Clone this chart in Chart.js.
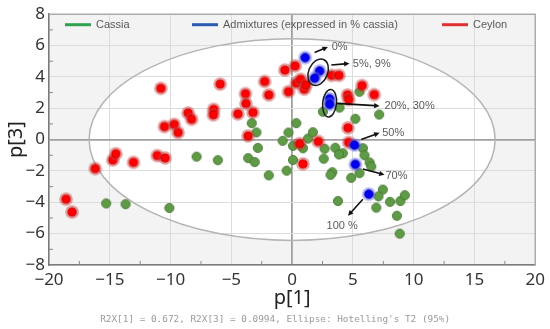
<!DOCTYPE html>
<html>
<head>
<meta charset="utf-8">
<script src="https://cdn.jsdelivr.net/npm/chart.js@4.4.1/dist/chart.umd.min.js"></script>
<style>
  html, body { margin: 0; padding: 0; background: #fff; }
  #wrap { width: 550px; height: 329px; }
</style>
</head>
<body>
<div id="wrap"><canvas id="scoreChart"></canvas></div>
<script>
// score plot p[1] vs p[3]
const seriesNames = ["Cassia", "Admixtures (expressed in % cassia)", "Ceylon"];

const cassiaPoints = [
  [-15.3, -4.07], [-13.7, -4.12], [-10.1, -4.36], [-7.86, -1.09], [-6.11, -1.31],
  [-3.62, -1.18], [-3.08, -1.43], [-1.92, -2.28], [-0.45, -1.98], [0.07, -1.3],
  [-3.32, 1.05], [-2.94, 0.46], [-2.82, -0.53], [-0.78, -0.08], [-0.3, 0.45],
  [0.34, 1.05], [0.07, -0.4], [0.89, -0.55], [1.3, 0.07], [1.71, 0.47],
  [2.53, 1.78], [3.9, 2.04], [5.54, 3.05], [7.16, 1.6], [5.2, 1.33],
  [3.55, -0.52], [4.17, -0.87], [3.85, -0.95], [2.6, -1.22], [2.67, -0.58],
  [5.82, -0.55], [5.95, -1.0], [6.37, -1.46], [6.51, -1.72], [3.3, -2.08],
  [3.16, -2.25], [4.86, -2.44], [5.54, -2.14], [3.77, -3.92], [7.46, -3.19],
  [7.1, -3.62], [6.92, -4.34], [8.05, -3.97], [8.9, -3.92], [9.27, -3.55],
  [8.62, -4.86], [8.85, -6.0]
];

const ceylonPoints = [
  [-18.6, -3.8], [-18.1, -4.62], [-16.2, -1.85], [-14.75, -1.3], [-14.5, -0.9],
  [-13.05, -1.45], [-11.1, -1.02], [-10.45, -1.17], [-10.8, 3.27], [-10.5, 0.83],
  [-9.7, 0.97], [-9.38, 0.45], [-8.56, 1.7], [-8.27, 1.3], [-6.45, 1.93],
  [-6.48, 1.58], [-5.92, 3.54], [-4.46, 1.64], [-3.84, 2.93], [-3.8, 2.3],
  [-3.22, 1.73], [-2.26, 3.71], [-1.92, 2.85], [-3.63, 0.23], [-0.6, 4.44],
  [0.25, 4.7], [-0.3, 3.06], [0.35, 3.6], [0.7, 3.85], [1.0, 3.22],
  [1.15, 3.5], [3.25, 4.1], [3.85, 4.1], [5.75, 3.45], [6.75, 2.87],
  [4.55, 2.85], [4.65, 2.55], [4.59, 0.75], [2.15, -0.12], [0.62, -0.26],
  [0.89, -1.55], [4.65, -0.18]
];

const admixPoints = [
  [1.07, 5.23], [2.26, 4.38], [1.85, 3.92], [3.08, 2.6], [3.08, 2.25],
  [5.13, -0.35], [5.2, -1.58], [6.31, -3.48]
];

const xRange = [-20, 20];
const yRange = [-8, 8];
const xStep = 5;
const yStep = 2;

// Hotelling's T2 ellipse (95%), semi-axes in p[1] / p[3] units
const t2Ellipse = { a: 16.7, b: 6.43 };

// rings round the 5/9 % and 20/30 % pairs
const pairRings = [
  { at: [2.14, 4.3], rx: 0.78, ry: 0.88, tilt: 0.4 },
  { at: [3.08, 2.32], rx: 0.57, ry: 0.88, tilt: 0.1 }
];

// arrow labels for the admixtures
const admixNotes = [
  { text: "0%", from: [1.85, 5.55], to: [2.94, 5.91], at: [3.25, 5.91], align: "left" },
  { text: "5%, 9%", from: [3.22, 4.76], to: [4.72, 4.86], at: [4.99, 4.84], align: "left" },
  { text: "20%, 30%", from: [3.63, 2.31], to: [7.19, 2.15], at: [7.6, 2.15], align: "left" },
  { text: "50%", from: [5.68, 0.01], to: [7.19, 0.43], at: [7.41, 0.43], align: "left" },
  { text: "70%", from: [5.82, -1.87], to: [7.6, -2.25], at: [7.68, -2.31], align: "left" },
  { text: "100 %", from: [5.82, -3.81], to: [4.59, -4.86], at: [4.11, -5.53], align: "center" }
];

const footnote = "R2X[1] = 0.672, R2X[3] = 0.0994, Ellipse: Hotelling's T2 (95%)";

const legendColors = ["#2fa24f", "#2a5bb0", "#e03030"];
const legendOffsets = [16, 143, 393];

function makeDot(r, fill, edge, haloR, halo) {
  const size = Math.ceil((haloR || r + 1) * 2 + 2);
  const c = document.createElement("canvas");
  c.width = size;
  c.height = size;
  const g = c.getContext("2d");
  const m = size / 2;
  if (haloR) {
    g.beginPath();
    g.arc(m, m, haloR, 0, Math.PI * 2);
    g.fillStyle = halo;
    g.fill();
  }
  g.beginPath();
  g.arc(m, m, r, 0, Math.PI * 2);
  g.fillStyle = fill;
  g.fill();
  g.lineWidth = 0.8;
  g.strokeStyle = edge;
  g.stroke();
  return c;
}

const greenDot = makeDot(4.6, "#5f9a46", "#41722e");
const redDot = makeDot(4.1, "#ff0000", "#c00000", 6.8, "rgba(205,60,60,0.5)");
const blueDot = makeDot(4.3, "#0000f0", "#0000b0", 6.8, "rgba(95,95,235,0.5)");

function toXY(list) {
  return list.map(p => ({ x: p[0], y: p[1] }));
}

function arrow(ctx, x1, y1, x2, y2) {
  const ang = Math.atan2(y2 - y1, x2 - x1);
  const head = 6;
  ctx.beginPath();
  ctx.moveTo(x1, y1);
  ctx.lineTo(x2 - head * 0.8 * Math.cos(ang), y2 - head * 0.8 * Math.sin(ang));
  ctx.stroke();
  ctx.beginPath();
  ctx.moveTo(x2, y2);
  ctx.lineTo(x2 - head * Math.cos(ang - 0.45), y2 - head * Math.sin(ang - 0.45));
  ctx.lineTo(x2 - head * Math.cos(ang + 0.45), y2 - head * Math.sin(ang + 0.45));
  ctx.closePath();
  ctx.fill();
}

const plotDecor = {
  id: "plotDecor",
  beforeDraw(chart) {
    const { ctx, chartArea: a, scales: { x, y } } = chart;
    ctx.save();
    ctx.fillStyle = "#f3f3f3";
    ctx.fillRect(a.left, a.top, a.right - a.left, a.bottom - a.top);
    const cx = x.getPixelForValue(0);
    const cy = y.getPixelForValue(0);
    const rx = Math.abs(x.getPixelForValue(t2Ellipse.a) - cx);
    const ry = Math.abs(y.getPixelForValue(t2Ellipse.b) - cy);
    ctx.beginPath();
    ctx.ellipse(cx, cy, rx, ry, 0, 0, Math.PI * 2);
    ctx.fillStyle = "#fff";
    ctx.fill();
    ctx.restore();
  },
  beforeDatasetsDraw(chart) {
    const { ctx, chartArea: a, scales: { x, y } } = chart;
    ctx.save();
    const cx = x.getPixelForValue(0);
    const cy = y.getPixelForValue(0);
    const rx = Math.abs(x.getPixelForValue(t2Ellipse.a) - cx);
    const ry = Math.abs(y.getPixelForValue(t2Ellipse.b) - cy);
    ctx.beginPath();
    ctx.ellipse(cx, cy, rx, ry, 0, 0, Math.PI * 2);
    ctx.strokeStyle = "#b4b4b4";
    ctx.lineWidth = 1.5;
    ctx.stroke();

    // frame top / right
    ctx.strokeStyle = "#ababab";
    ctx.lineWidth = 1.5;
    ctx.beginPath();
    ctx.moveTo(a.left, a.top);
    ctx.lineTo(a.right, a.top);
    ctx.lineTo(a.right, a.bottom);
    ctx.stroke();

    // minor ticks
    ctx.strokeStyle = "#8a8a8a";
    ctx.lineWidth = 1;
    for (let v = xRange[0] + xStep / 2; v < xRange[1]; v += xStep) {
      const px = x.getPixelForValue(v);
      ctx.beginPath();
      ctx.moveTo(px, a.bottom);
      ctx.lineTo(px, a.bottom - 4);
      ctx.stroke();
    }
    for (let v = yRange[0] + yStep / 2; v < yRange[1]; v += yStep) {
      const py = y.getPixelForValue(v);
      ctx.beginPath();
      ctx.moveTo(a.left, py);
      ctx.lineTo(a.left + 4, py);
      ctx.stroke();
    }
    ctx.restore();
  },
  afterDatasetsDraw(chart) {
    const { ctx, chartArea: a, scales: { x, y } } = chart;
    ctx.save();

    // rings round overlapping admixtures
    ctx.strokeStyle = "#1a1a1a";
    ctx.lineWidth = 1.5;
    pairRings.forEach(r => {
      const cx = x.getPixelForValue(r.at[0]);
      const cy = y.getPixelForValue(r.at[1]);
      const rx = Math.abs(x.getPixelForValue(r.at[0] + r.rx) - cx);
      const ry = Math.abs(y.getPixelForValue(r.at[1] + r.ry) - cy);
      ctx.beginPath();
      ctx.ellipse(cx, cy, rx, ry, r.tilt, 0, Math.PI * 2);
      ctx.stroke();
    });

    // arrows + labels
    ctx.strokeStyle = "#111";
    ctx.fillStyle = "#111";
    ctx.lineWidth = 1.6;
    admixNotes.forEach(n => {
      arrow(ctx,
        x.getPixelForValue(n.from[0]), y.getPixelForValue(n.from[1]),
        x.getPixelForValue(n.to[0]), y.getPixelForValue(n.to[1]));
    });
    ctx.fillStyle = "#5a5a5a";
    ctx.font = "11px 'Liberation Sans', Arial, sans-serif";
    ctx.textBaseline = "middle";
    admixNotes.forEach(n => {
      ctx.textAlign = n.align;
      ctx.fillText(n.text, x.getPixelForValue(n.at[0]), y.getPixelForValue(n.at[1]));
    });

    // legend inside the plot
    const ly = a.top + 10.5;
    ctx.textAlign = "left";
    ctx.lineWidth = 3;
    seriesNames.forEach((name, i) => {
      const lx = a.left + legendOffsets[i];
      ctx.strokeStyle = legendColors[i];
      ctx.beginPath();
      ctx.moveTo(lx, ly);
      ctx.lineTo(lx + 26, ly);
      ctx.stroke();
      ctx.fillStyle = "#5a5a5a";
      ctx.fillText(name, lx + 31, ly);
    });
    ctx.restore();
  },
  afterDraw(chart) {
    const { ctx, chartArea: a } = chart;
    ctx.save();
    ctx.fillStyle = "#9a9a9a";
    ctx.font = "9.4px 'DejaVu Sans Mono', monospace";
    ctx.textAlign = "center";
    ctx.textBaseline = "middle";
    ctx.fillText(footnote, (a.left + a.right) / 2 - 17, 320);
    ctx.restore();
  }
};

const tickFont = { family: "'Noto Sans', sans-serif", size: 17 };
const titleFont = { family: "'Noto Sans', sans-serif", size: 20 };

function gridColor(c) {
  return c.tick && c.tick.value === 0 ? "#a0a0a0" : "#dcdcdc";
}
function gridWidth(c) {
  return c.tick && c.tick.value === 0 ? 1.8 : 1;
}
function minusLabel(v) {
  return String(v).replace("-", "\u2212");
}

new Chart(document.getElementById("scoreChart"), {
  type: "scatter",
  data: {
    datasets: [
      { label: seriesNames[1], data: toXY(admixPoints), pointStyle: blueDot, order: 0 },
      { label: seriesNames[2], data: toXY(ceylonPoints), pointStyle: redDot, order: 1 },
      { label: seriesNames[0], data: toXY(cassiaPoints), pointStyle: greenDot, order: 2 }
    ]
  },
  options: {
    responsive: true,
    maintainAspectRatio: false,
    animation: false,
    events: [],
    layout: { padding: { top: 10, right: 14, bottom: 18, left: 0 } },
    plugins: {
      legend: { display: false },
      tooltip: { enabled: false }
    },
    scales: {
      x: {
        type: "linear",
        min: xRange[0],
        max: xRange[1],
        afterFit: s => { s.height = 46; },
        ticks: { stepSize: xStep, color: "#333", font: tickFont, padding: 5, callback: minusLabel },
        grid: { color: gridColor, lineWidth: gridWidth, drawTicks: false },
        border: { color: "#7a7a7a", width: 1.5 },
        title: { display: true, text: "p[1]", color: "#222", font: titleFont, padding: { top: 0, bottom: 1 } }
      },
      y: {
        type: "linear",
        min: yRange[0],
        max: yRange[1],
        afterFit: s => { s.width = 49; },
        ticks: { stepSize: yStep, color: "#333", font: tickFont, padding: 4, callback: minusLabel },
        grid: { color: gridColor, lineWidth: gridWidth, drawTicks: false },
        border: { color: "#7a7a7a", width: 1.5 },
        title: { display: true, text: "p[3]", color: "#222", font: titleFont, padding: { top: 4, bottom: 0 } }
      }
    }
  },
  plugins: [plotDecor]
});
</script>
</body>
</html>
